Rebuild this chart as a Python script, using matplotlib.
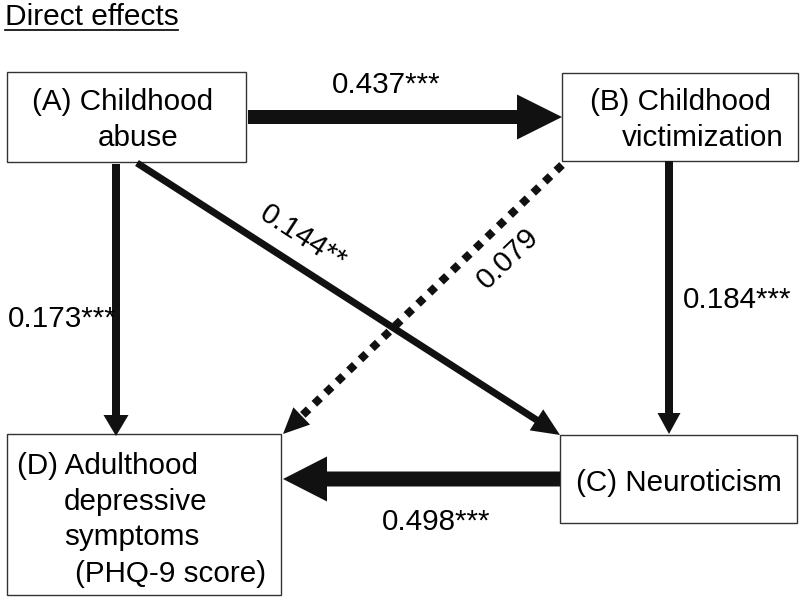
import numpy as np
import matplotlib
matplotlib.use('Agg')
import matplotlib.pyplot as plt
from matplotlib.patches import Rectangle, FancyArrow

plt.rcParams['font.family'] = ['Liberation Sans', 'DejaVu Sans']

# path model: direct effects
node_ids = ['A', 'B', 'C', 'D']
node_lines = [
    ['(A) Childhood', 'abuse'],
    ['(B) Childhood', 'victimization'],
    ['(C) Neuroticism'],
    ['(D) Adulthood', 'depressive', 'symptoms', '(PHQ-9 score)'],
]
path_from = ['A', 'A', 'A', 'B', 'B', 'C']
path_to = ['B', 'D', 'C', 'D', 'C', 'D']
path_coef = [0.437, 0.173, 0.144, 0.079, 0.184, 0.498]
path_stars = ['***', '***', '**', '', '***', '***']

# layout, in pixels (y down)
box = {
    'A': (7, 72, 246, 162),
    'B': (562, 73, 798, 161),
    'C': (560, 435, 797, 523),
    'D': (7, 434, 281, 595),
}
line_pos = {
    'A': [(32, 110), (98, 146)],
    'B': [(590, 110), (622, 146)],
    'C': [(576, 491)],
    'D': [(17, 474), (64, 510), (64, 545), (75, 582)],
}
# start, end, shaft width, head width, head length, style
arrow_geom = [
    ((248, 117), (562, 117), 14, 45, 45, 'solid'),
    ((116, 164), (116, 436), 8, 25, 21, 'solid'),
    ((137, 163), (560, 435), 7, 25, 28, 'solid'),
    ((562, 165), (283, 434), 8, 24, 26, 'dotted'),
    ((669, 161), (669, 434), 8, 23, 21, 'solid'),
    ((560, 479), (283, 479), 15, 45, 44, 'solid'),
]
# x, y, ha, va, rotation
label_pos = [
    (386, 93, 'center', 'baseline', 0),
    (62, 327, 'center', 'baseline', 0),
    (303, 238, 'center', 'center', -33),
    (508, 258, 'center', 'center', 44),
    (683, 308, 'left', 'baseline', 0),
    (436, 530, 'center', 'baseline', 0),
]

W, H = 800, 597
fig = plt.figure(figsize=(8, 5.97), dpi=100)
ax = fig.add_axes([0, 0, 1, 1])
ax.set_xlim(0, W)
ax.set_ylim(H, 0)
ax.set_axis_off()

fs = 21.3
ink = '#111111'

# title
ax.text(5, 25, 'Direct effects', fontsize=21.5, ha='left', va='baseline')
ax.plot([5, 178], [30, 30], color='black', lw=1.2)

# boxes and their text
for nid, lines in zip(node_ids, node_lines):
    x0, y0, x1, y1 = box[nid]
    ax.add_patch(Rectangle((x0, y0), x1 - x0, y1 - y0, fill=False,
                           edgecolor='#333333', lw=1.0))
    for txt, (tx, ty) in zip(lines, line_pos[nid]):
        ax.text(tx, ty, txt, fontsize=fs, ha='left', va='baseline')

# paths
for coef, stars, geom, lp in zip(path_coef, path_stars, arrow_geom, label_pos):
    (sx, sy), (ex, ey), w, hw, hl, style = geom
    dx, dy = ex - sx, ey - sy
    if style == 'solid':
        ax.add_patch(FancyArrow(sx, sy, dx, dy, width=w, head_width=hw,
                                head_length=hl, length_includes_head=True,
                                color=ink, lw=0))
    else:
        L = np.hypot(dx, dy)
        ux, uy = dx / L, dy / L
        bx, by = ex - ux * hl, ey - uy * hl
        ax.plot([sx, bx], [sy, by], color=ink, lw=w * 0.72,
                dashes=(1, 1.0), solid_capstyle='butt', dash_capstyle='butt')
        ax.add_patch(FancyArrow(bx, by, ex - bx, ey - by, width=0.01,
                                head_width=hw, head_length=hl,
                                length_includes_head=True, color=ink, lw=0))
    tx, ty, ha, va, rot = lp
    ax.text(tx, ty, f'{coef:.3f}{stars}', fontsize=fs, ha=ha, va=va,
            rotation=rot, rotation_mode='anchor')

fig.savefig('out.png', dpi=100)
